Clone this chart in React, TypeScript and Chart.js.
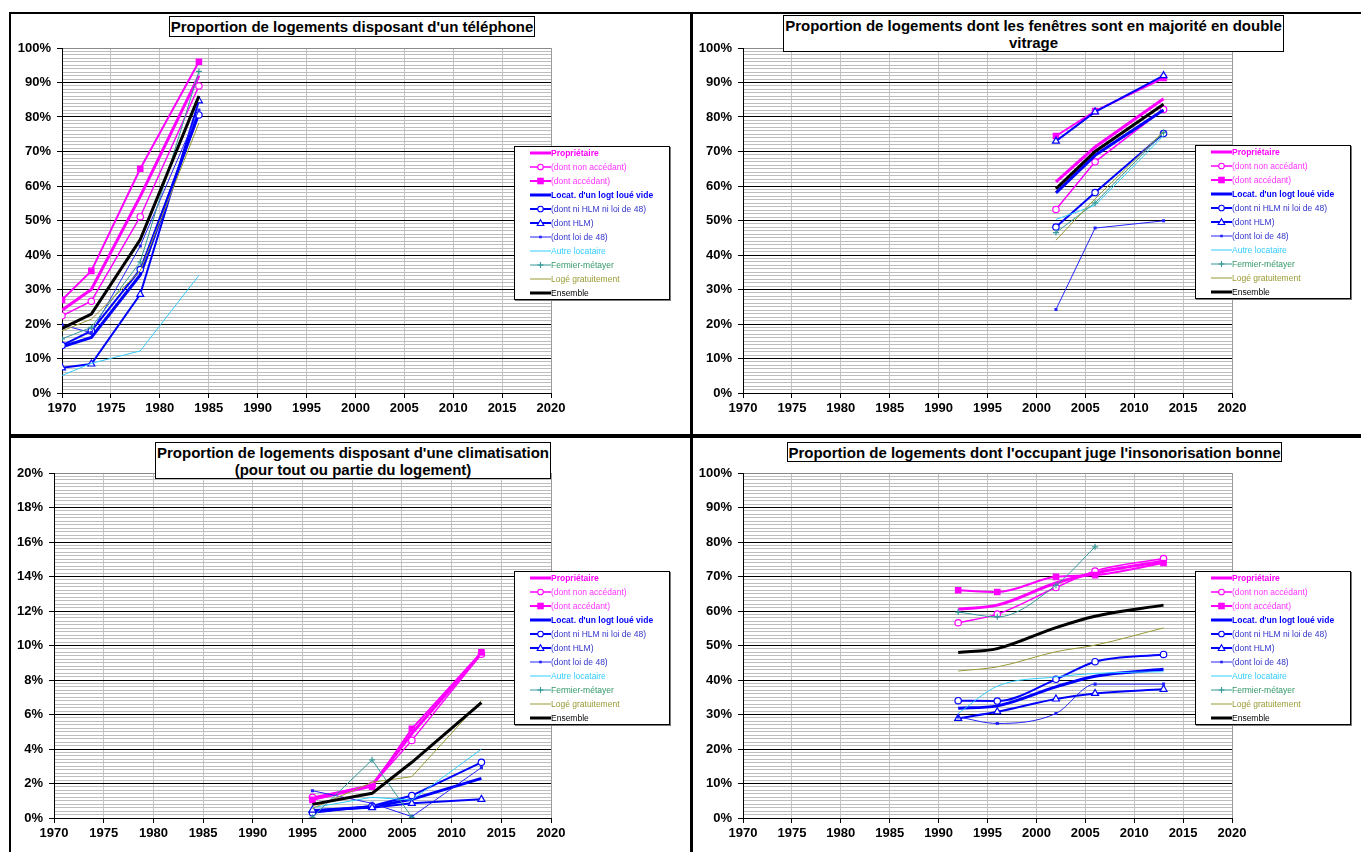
import React, { useEffect, useRef } from 'react';
import { Chart, registerables } from 'chart.js';

Chart.register(...registerables);

// ---------- Series ----------
const seriesNames = [
  'Propriétaire',
  '(dont non accédant)',
  '(dont accédant)',
  "Locat. d'un logt loué vide",
  '(dont ni HLM ni loi de 48)',
  '(dont HLM)',
  '(dont loi de 48)',
  'Autre locataire',
  'Fermier-métayer',
  'Logé gratuitement',
  'Ensemble',
];

// ---------- Panel 1 : téléphone ----------
const telYears = [1970, 1973, 1978, 1984];
const telProprietaire = [24, 30, 57, 92];
const telNonAccedant = [22.4, 26.6, 51.1, 89];
const telAccedant = [27, 35.4, 65, 96];
const telLocataire = [13.4, 16.1, 34.2, 81.3];
const telNiHlm = [13.8, 18, 35.8, 80.6];
const telHlm = [7.3, 8.4, 28.6, 84.7];
const telLoi48 = [19.7, 17.5, 42.6, 82];
const telAutre = [5.1, 8.6, 12.2, 34.1];
const telFermier = [15.7, 19, 38, 93.2];
const telLoge = [18, 21.4, 35.4, 78.2];
const telEnsemble = [18.7, 22.9, 44.5, 86.1];

// ---------- Panel 2 : double vitrage ----------
const vitYears = [2002, 2006, 2013];
const vitProprietaire = [61.2, 71.3, 85.3];
const vitNonAccedant = [53.2, 67, 82.2];
const vitAccedant = [74.5, 81.7, 91.3];
const vitLocataire = [58, 68.9, 82];
const vitNiHlm = [48.1, 58.1, 75.2];
const vitHlm = [73, 81.5, 92];
const vitLoi48 = [24.2, 47.8, 49.9];
const vitAutre = [50.3, 54.4, 74.6];
const vitFermier = [46.5, 55.1, 75.5];
const vitLoge = [44.3, 56.3, 75.8];
const vitEnsemble = [59.2, 70, 83.7];

// ---------- Panel 3 : climatisation ----------
const cliYears = [1996, 2002, 2006, 2013];
const cliProprietaire = [1.1, 1.9, 4.9, 9.55];
const cliNonAccedant = [1.2, 1.9, 4.5, 9.5];
const cliAccedant = [1.05, 1.82, 5.17, 9.6];
const cliLocataire = [0.4, 0.65, 1.08, 2.3];
const cliNiHlm = [0.3, 0.7, 1.3, 3.23];
const cliHlm = [0.46, 0.6, 0.85, 1.08];
const cliLoi48 = [1.58, 0.85, 0.08, 2.92];
const cliAutre = [0.6, 1.2, 1.04, 3.99];
const cliFermier = [0.04, 3.37, 0.04, null];
const cliLoge = [0.56, 2.07, 2.4, 6.81];
const cliEnsemble = [0.79, 1.43, 3.23, 6.69];

// ---------- Panel 4 : insonorisation ----------
const insYears = [1992, 1996, 2002, 2006, 2013];
const insProprietaire = [60.5, 61.7, 68.1, 71, 74.5];
const insNonAccedant = [56.6, 59.1, 66.8, 71.6, 75.2];
const insAccedant = [66, 65.5, 69.9, 70.4, 73.9];
const insLocataire = [31.8, 32.5, 38, 41.1, 43.1];
const insNiHlm = [34, 33.9, 40.2, 45.3, 47.4];
const insHlm = [28.9, 30.8, 34.5, 36.1, 37.3];
const insLoi48 = [29.3, 27.4, 30.3, 38.8, 38.8];
const insAutre = [30.3, 38.2, 40.9, 41.9, 42.4];
const insFermier = [59.7, 58.3, 67.5, 78.6, null];
const insLoge = [42.6, 43.8, 48.2, 50.1, 55.1];
const insEnsemble = [48, 49.1, 55.2, 58.5, 61.7];

// ---------- Titles ----------
const titleTel = ["Proportion de logements disposant d'un téléphone"];
const titleVit = ['Proportion de logements dont les fenêtres sont en majorité en double', 'vitrage'];
const titleCli = ["Proportion de logements disposant d'une climatisation", '(pour tout ou partie du logement)'];
const titleIns = ["Proportion de logements dont l'occupant juge l'insonorisation bonne"];

// ---------- Styles ----------
const FONT = '"Liberation Sans", Arial, Helvetica, sans-serif';
const lineColors = ['#FF00FF', '#FF00FF', '#FF00FF', '#0000FF', '#0000FF', '#0000FF', '#2222FF', '#33CCFF', '#339999', '#999933', '#000000'];
const textColors = ['#FF00FF', '#FF33FF', '#FF33FF', '#0000FF', '#3333CC', '#3333CC', '#3333CC', '#33CCFF', '#339966', '#999933', '#000000'];
const boldLegend = [true, false, false, true, false, false, false, false, false, false, false];
const lineWidths = [3, 1.5, 2, 3, 2, 2, 1, 1, 1, 1, 3];
const markerShapes = ['none', 'circle', 'rect', 'none', 'circle', 'triangle', 'dot', 'none', 'cross', 'none', 'none'];

type Area = { l: number; r: number; t: number; b: number };
type PanelCfg = {
  years: number[];
  series: (number | null)[][];
  yMax: number;
  yStep: number;
  yMajor: number;
  area: Area;
  smooth: boolean;
};

const W = 1361;
const H = 852;

const panels: PanelCfg[] = [
  {
    years: telYears,
    series: [telProprietaire, telNonAccedant, telAccedant, telLocataire, telNiHlm, telHlm, telLoi48, telAutre, telFermier, telLoge, telEnsemble],
    yMax: 100, yStep: 1, yMajor: 10,
    area: { l: 62, r: 551, t: 48, b: 393 },
    smooth: false,
  },
  {
    years: vitYears,
    series: [vitProprietaire, vitNonAccedant, vitAccedant, vitLocataire, vitNiHlm, vitHlm, vitLoi48, vitAutre, vitFermier, vitLoge, vitEnsemble],
    yMax: 100, yStep: 1, yMajor: 10,
    area: { l: 743, r: 1232, t: 48, b: 393 },
    smooth: false,
  },
  {
    years: cliYears,
    series: [cliProprietaire, cliNonAccedant, cliAccedant, cliLocataire, cliNiHlm, cliHlm, cliLoi48, cliAutre, cliFermier, cliLoge, cliEnsemble],
    yMax: 20, yStep: 0.2, yMajor: 2,
    area: { l: 54, r: 551, t: 473, b: 818 },
    smooth: false,
  },
  {
    years: insYears,
    series: [insProprietaire, insNonAccedant, insAccedant, insLocataire, insNiHlm, insHlm, insLoi48, insAutre, insFermier, insLoge, insEnsemble],
    yMax: 100, yStep: 1, yMajor: 10,
    area: { l: 743, r: 1232, t: 473, b: 818 },
    smooth: true,
  },
];

const isMajor = (v: number, major: number) => Math.abs(v / major - Math.round(v / major)) < 1e-6;

function pointStyleOf(shape: string): any {
  if (shape === 'circle') return 'circle';
  if (shape === 'rect') return 'rect';
  if (shape === 'triangle') return 'triangle';
  if (shape === 'cross') return 'cross';
  if (shape === 'dot') return 'rect';
  return 'circle';
}
function pointRadiusOf(shape: string): number {
  if (shape === 'none') return 0;
  if (shape === 'dot') return 1.3;
  if (shape === 'triangle') return 4;
  if (shape === 'rect') return 3.8;
  if (shape === 'cross') return 3;
  return 3.2;
}
function pointFillOf(shape: string, color: string): string {
  if (shape === 'circle' || shape === 'triangle') return '#FFFFFF';
  return color;
}

function PanelChart({ cfg }: { cfg: PanelCfg }) {
  const ref = useRef<HTMLCanvasElement | null>(null);
  useEffect(() => {
    if (!ref.current) return;
    const yAxisW = 50;
    const xAxisH = 30;
    const datasets = seriesNames.map((name, i) => ({
      label: name,
      data: cfg.years.map((x, j) => ({ x, y: cfg.series[i][j] })),
      borderColor: lineColors[i],
      backgroundColor: lineColors[i],
      borderWidth: lineWidths[i],
      pointStyle: pointStyleOf(markerShapes[i]),
      pointRadius: pointRadiusOf(markerShapes[i]),
      pointBorderWidth: 1.2,
      pointBackgroundColor: pointFillOf(markerShapes[i], lineColors[i]),
      pointBorderColor: lineColors[i],
      cubicInterpolationMode: cfg.smooth ? 'monotone' : 'default',
      tension: 0,
      order: seriesNames.length - i,
      spanGaps: false,
    }));
    const chart = new Chart(ref.current, {
      type: 'line',
      data: { datasets },
      options: {
        animation: false,
        responsive: false,
        devicePixelRatio: 1,
        events: [],
        layout: {
          padding: {
            left: cfg.area.l - yAxisW,
            right: W - cfg.area.r,
            top: cfg.area.t,
            bottom: H - cfg.area.b - xAxisH,
          },
        },
        plugins: {
          legend: { display: false },
          tooltip: { enabled: false },
          title: { display: false },
        },
        scales: {
          x: {
            type: 'linear',
            min: 1970,
            max: 2020,
            afterFit: (s: any) => { s.height = xAxisH; },
            ticks: {
              stepSize: 5,
              autoSkip: false,
              maxRotation: 0,
              padding: 3,
              color: '#000',
              font: { family: FONT, size: 13, weight: 'bold' },
              callback: (v: any) => String(v),
            },
            grid: {
              color: (ctx: any) => (ctx.tick && ctx.tick.value === 2020 ? '#9a9a9a' : '#c4c4c4'),
              lineWidth: 1,
              tickLength: 5,
              tickColor: '#000',
              drawTicks: true,
            },
            border: { display: true, color: '#000', width: 1 },
          },
          y: {
            type: 'linear',
            min: 0,
            max: cfg.yMax,
            afterFit: (s: any) => { s.width = yAxisW; },
            ticks: {
              stepSize: cfg.yStep,
              autoSkip: false,
              padding: 6,
              color: '#000',
              font: { family: FONT, size: 13, weight: 'bold' },
              callback: (v: any) => (isMajor(Number(v), cfg.yMajor) ? `${Number(v)}%` : ''),
            },
            grid: {
              color: (ctx: any) => {
                const v = ctx.tick ? ctx.tick.value : 0;
                if (Math.abs(v - cfg.yMax) < 1e-6) return '#8a8a8a';
                return isMajor(v, cfg.yMajor) ? '#000' : '#bdbdbd';
              },
              lineWidth: 1,
              tickLength: 5,
              tickColor: (ctx: any) => {
                const v = ctx.tick ? ctx.tick.value : 0;
                return isMajor(v, cfg.yMajor) ? '#000' : 'rgba(0,0,0,0)';
              },
              drawTicks: true,
            },
            border: { display: true, color: '#000', width: 1 },
          },
        },
      } as any,
    });
    return () => chart.destroy();
  }, [cfg]);
  return (
    <canvas
      ref={ref}
      width={W}
      height={H}
      style={{ position: 'absolute', left: 0, top: 0, width: W, height: H }}
    />
  );
}

function Marker({ shape, color }: { shape: string; color: string }) {
  const cx = 10.5;
  const cy = 6;
  if (shape === 'circle') return <circle cx={cx} cy={cy} r={2.8} fill="#fff" stroke={color} strokeWidth={1.1} />;
  if (shape === 'rect') return <rect x={cx - 3.3} y={cy - 3.3} width={6.6} height={6.6} fill={color} />;
  if (shape === 'triangle')
    return <polygon points={`${cx},${cy - 3.3} ${cx + 3.3},${cy + 2.5} ${cx - 3.3},${cy + 2.5}`} fill="#fff" stroke={color} strokeWidth={1.1} />;
  if (shape === 'cross')
    return (
      <g stroke={color} strokeWidth={1.1}>
        <line x1={cx - 3} y1={cy} x2={cx + 3} y2={cy} />
        <line x1={cx} y1={cy - 3} x2={cx} y2={cy + 3} />
      </g>
    );
  if (shape === 'dot') return <rect x={cx - 1.3} y={cy - 1.3} width={2.6} height={2.6} fill={color} />;
  return null;
}

function LegendBox({ left, top }: { left: number; top: number }) {
  return (
    <div
      style={{
        position: 'absolute',
        left,
        top,
        width: 156,
        height: 154,
        border: '1px solid #000',
        boxShadow: '1px 1px 0 #7a7a7a',
        background: '#fff',
        boxSizing: 'border-box',
      }}
    >
      {seriesNames.map((name, i) => (
        <div
          key={name}
          style={{
            position: 'absolute',
            left: 15,
            top: i * 14,
            height: 12,
            display: 'flex',
            alignItems: 'center',
            whiteSpace: 'nowrap',
          }}
        >
          <svg width={21} height={12} style={{ display: 'block', flex: 'none' }}>
            <line x1={0} y1={6} x2={21} y2={6} stroke={lineColors[i]} strokeWidth={lineWidths[i]} />
            <Marker shape={markerShapes[i]} color={lineColors[i]} />
          </svg>
          <span
            style={{
              fontFamily: FONT,
              fontSize: 8.5,
              lineHeight: '12px',
              color: textColors[i],
              fontWeight: boldLegend[i] ? 'bold' : 'normal',
            }}
          >
            {name}
          </span>
        </div>
      ))}
    </div>
  );
}

function TitleBox({ left, top, width, height, lines }: { left: number; top: number; width: number; height: number; lines: string[] }) {
  return (
    <div
      style={{
        position: 'absolute',
        left,
        top,
        width,
        height,
        border: '1px solid #000',
        background: '#fff',
        boxSizing: 'border-box',
        display: 'flex',
        flexDirection: 'column',
        justifyContent: 'center',
        alignItems: 'center',
        fontFamily: FONT,
        fontWeight: 'bold',
        fontSize: 15,
        lineHeight: '17px',
        color: '#000',
        whiteSpace: 'nowrap',
      }}
    >
      {lines.map((l) => (
        <div key={l}>{l}</div>
      ))}
    </div>
  );
}

export default function App() {
  return (
    <div
      style={{
        position: 'absolute',
        left: 0,
        top: 0,
        width: W,
        height: H,
        background: '#fff',
        overflow: 'hidden',
      }}
    >
      {panels.map((p, i) => (
        <PanelChart key={i} cfg={p} />
      ))}
      {/* frame */}
      <div style={{ position: 'absolute', left: 9, top: 12, width: W - 9, height: 2, background: '#000' }} />
      <div style={{ position: 'absolute', left: 9, top: 12, width: 2, height: H - 12, background: '#000' }} />
      <div style={{ position: 'absolute', left: 690, top: 12, width: 3, height: H - 12, background: '#000' }} />
      <div style={{ position: 'absolute', left: 9, top: 434, width: W - 9, height: 4, background: '#000' }} />

      <TitleBox left={169} top={16} width={366} height={21} lines={titleTel} />
      <TitleBox left={783} top={15} width={501} height={37} lines={titleVit} />
      <TitleBox left={155} top={442} width={396} height={37} lines={titleCli} />
      <TitleBox left={787} top={442} width={495} height={20} lines={titleIns} />

      <LegendBox left={514} top={146} />
      <LegendBox left={1195} top={145} />
      <LegendBox left={514} top={571} />
      <LegendBox left={1195} top={571} />
    </div>
  );
}
